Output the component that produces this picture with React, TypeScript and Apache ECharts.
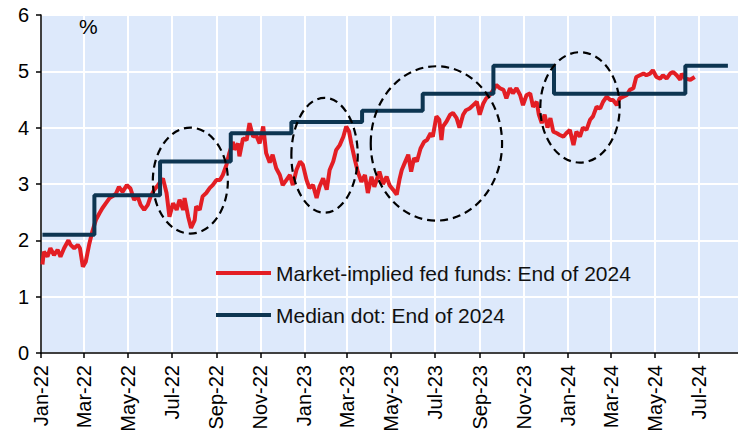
import React, { useEffect, useRef } from "react";
import * as echarts from "echarts";

const FONT = "Liberation Sans, Arial, sans-serif";

const tickDates = [
  "2022-01-01", "2022-03-01", "2022-05-01", "2022-07-01", "2022-09-01", "2022-11-01",
  "2023-01-01", "2023-03-01", "2023-05-01", "2023-07-01", "2023-09-01", "2023-11-01",
  "2024-01-01", "2024-03-01", "2024-05-01", "2024-07-01",
];
const tickLabels = [
  "Jan-22", "Mar-22", "May-22", "Jul-22", "Sep-22", "Nov-22",
  "Jan-23", "Mar-23", "May-23", "Jul-23", "Sep-23", "Nov-23",
  "Jan-24", "Mar-24", "May-24", "Jul-24",
];

const marketDates = [
  "2022-01-03", "2022-01-05", "2022-01-10", "2022-01-14", "2022-01-19", "2022-01-24", "2022-01-28",
  "2022-02-02", "2022-02-08", "2022-02-11", "2022-02-16", "2022-02-21", "2022-02-24", "2022-02-28",
  "2022-03-04", "2022-03-09", "2022-03-13", "2022-03-18", "2022-03-23", "2022-03-27",
  "2022-04-01", "2022-04-06", "2022-04-10", "2022-04-15", "2022-04-19", "2022-04-24", "2022-04-30",
  "2022-05-05", "2022-05-10", "2022-05-15", "2022-05-19", "2022-05-24", "2022-05-29",
  "2022-06-02", "2022-06-07", "2022-06-12", "2022-06-19", "2022-06-24", "2022-06-28",
  "2022-07-03", "2022-07-08", "2022-07-12", "2022-07-17", "2022-07-19", "2022-07-24", "2022-07-28",
  "2022-08-02", "2022-08-04", "2022-08-09", "2022-08-13", "2022-08-18", "2022-08-23", "2022-08-27",
  "2022-09-01", "2022-09-06", "2022-09-10", "2022-09-15", "2022-09-19", "2022-09-24", "2022-09-26",
  "2022-10-01", "2022-10-03", "2022-10-08", "2022-10-13", "2022-10-17", "2022-10-22", "2022-10-26", "2022-10-31",
  "2022-11-05", "2022-11-09", "2022-11-14", "2022-11-18", "2022-11-23", "2022-11-28",
  "2022-12-02", "2022-12-07", "2022-12-12", "2022-12-16", "2022-12-21", "2022-12-26", "2022-12-30",
  "2023-01-04", "2023-01-08", "2023-01-13", "2023-01-18", "2023-01-22", "2023-01-27",
  "2023-02-01", "2023-02-05", "2023-02-10", "2023-02-14", "2023-02-19", "2023-02-24", "2023-02-28",
  "2023-03-04", "2023-03-07", "2023-03-12", "2023-03-16", "2023-03-21", "2023-03-26", "2023-03-30",
  "2023-04-04", "2023-04-08", "2023-04-15", "2023-04-20", "2023-04-25", "2023-04-29",
  "2023-05-04", "2023-05-09", "2023-05-13", "2023-05-16", "2023-05-20", "2023-05-25", "2023-05-29",
  "2023-06-02", "2023-06-06", "2023-06-11", "2023-06-16", "2023-06-20", "2023-06-25", "2023-06-28",
  "2023-07-03", "2023-07-07", "2023-07-10", "2023-07-12", "2023-07-17", "2023-07-22", "2023-07-26", "2023-07-31",
  "2023-08-04", "2023-08-09", "2023-08-13", "2023-08-18", "2023-08-23", "2023-08-28",
  "2023-09-01", "2023-09-06", "2023-09-10", "2023-09-15", "2023-09-20", "2023-09-24", "2023-09-29",
  "2023-10-04", "2023-10-08", "2023-10-13", "2023-10-17", "2023-10-22", "2023-10-27", "2023-10-31",
  "2023-11-05", "2023-11-10", "2023-11-14", "2023-11-19", "2023-11-22", "2023-11-26", "2023-11-30",
  "2023-12-04", "2023-12-08", "2023-12-12", "2023-12-17", "2023-12-21", "2023-12-26", "2023-12-30",
  "2024-01-04", "2024-01-09", "2024-01-13", "2024-01-18", "2024-01-22", "2024-01-27",
  "2024-02-01", "2024-02-05", "2024-02-10", "2024-02-15", "2024-02-19", "2024-02-24", "2024-02-29",
  "2024-03-04", "2024-03-09", "2024-03-13", "2024-03-23", "2024-03-27",
  "2024-04-01", "2024-04-05", "2024-04-10", "2024-04-15", "2024-04-19", "2024-04-24", "2024-04-28",
  "2024-05-03", "2024-05-08", "2024-05-12", "2024-05-17", "2024-05-22", "2024-05-26", "2024-05-31",
  "2024-06-05", "2024-06-07", "2024-06-12", "2024-06-19", "2024-06-25",
];
const marketValues = [
  1.57, 1.80, 1.71, 1.86, 1.74, 1.83, 1.71,
  1.86, 2.00, 1.92, 1.86, 1.92, 1.86, 1.53,
  1.62, 1.94, 2.15, 2.36, 2.48, 2.57,
  2.66, 2.75, 2.78, 2.83, 2.95, 2.86, 2.98,
  2.92, 2.72, 2.78, 2.63, 2.54, 2.63,
  2.78, 2.90, 2.98, 3.10, 2.84, 2.42,
  2.66, 2.54, 2.72, 2.54, 2.75, 2.42, 2.22,
  2.36, 2.60, 2.54, 2.78, 2.84, 2.93, 2.98,
  3.07, 3.07, 3.16, 3.34, 3.55, 3.75, 3.61,
  3.72, 3.49, 3.81, 3.78, 4.08, 3.84, 3.87, 3.72,
  4.02, 3.55, 3.38, 3.52, 3.28, 3.16,
  2.98, 3.07, 3.16, 2.98, 3.25, 3.40, 3.34,
  3.07, 2.93, 2.98, 2.75, 2.95, 3.10,
  2.90, 3.25, 3.40, 3.60, 3.69, 3.84, 4.02,
  3.93, 3.72, 3.43, 3.22, 3.04, 3.16, 2.84,
  3.13, 2.95, 3.22, 3.00, 3.13, 2.98,
  2.90, 2.81, 3.09, 3.25, 3.37, 3.52, 3.22,
  3.46, 3.40, 3.63, 3.75, 3.78, 3.90, 3.84,
  4.20, 4.14, 3.78, 4.02, 4.11, 4.23, 4.26, 4.17,
  4.00, 4.23, 4.31, 4.34, 4.40, 4.46,
  4.23, 4.43, 4.52, 4.58, 4.67, 4.76, 4.70,
  4.67, 4.52, 4.70, 4.61, 4.70, 4.58, 4.40,
  4.58, 4.61, 4.37, 4.46, 4.23, 4.08, 4.23,
  4.00, 4.17, 3.93, 3.90, 3.87, 3.84, 3.90,
  3.96, 3.69, 3.93, 3.84, 4.00, 3.96,
  4.14, 4.20, 4.37, 4.34, 4.46, 4.55, 4.49,
  4.49, 4.40, 4.52, 4.58, 4.67,
  4.70, 4.90, 4.93, 4.96, 4.93, 4.96, 5.02,
  4.90, 4.87, 4.93, 4.87, 4.96, 4.99, 4.93,
  4.85, 4.96, 4.87, 4.85, 4.90,
];

const medianDates = [
  "2022-01-03", "2022-03-16", "2022-06-15", "2022-09-21", "2022-12-14", "2023-03-22",
  "2023-06-14", "2023-09-20", "2023-12-13", "2024-03-20", "2024-06-12", "2024-08-10",
];
const medianValues = [2.1, 2.8, 3.4, 3.9, 4.1, 4.3, 4.6, 5.1, 4.6, 4.6, 5.1, 5.1];

const ellipseCenterDates = ["2022-07-27", "2023-01-29", "2023-07-03", "2024-01-18"];
const ellipseCenterValues = [3.06, 3.51, 3.72, 4.36];
const ellipseHalfWidthDays = [52, 46, 91, 55];
const ellipseHalfHeights = [0.94, 1.02, 1.37, 0.98];

const seriesNames = ["Market-implied fed funds: End of 2024", "Median dot: End of 2024"];
const seriesColors = ["#e31e24", "#0d3551"];

const DAY = 86400000;
const toTs = (s: string) => {
  const [y, m, d] = s.split("-").map(Number);
  return Date.UTC(y, m - 1, d);
};

export default function App() {
  const ref = useRef<HTMLDivElement>(null);

  useEffect(() => {
    document.body.style.margin = "0";
    if (!ref.current) return;
    const chart = echarts.init(ref.current, null, { renderer: "svg" });
    const tickTs = tickDates.map(toTs);
    const labelMap: Record<number, string> = {};
    tickTs.forEach((t, i) => (labelMap[t] = tickLabels[i]));

    chart.setOption({
      animation: false,
      backgroundColor: "#ffffff",
      grid: {
        left: 41, top: 15, right: 0, bottom: 82,
        show: true, backgroundColor: "#dde9fb", borderWidth: 0,
        outerBoundsMode: "none",
      },
      legend: {
        orient: "vertical",
        left: 216, top: 261, padding: 0,
        icon: "rect",
        itemWidth: 55, itemHeight: 4, itemGap: 18,
        textStyle: { fontSize: 21, color: "#111", fontFamily: FONT, lineHeight: 24 },
        data: seriesNames,
      },
      xAxis: {
        type: "value",
        min: toTs("2022-01-01"),
        max: toTs("2024-08-24"),
        axisLine: { show: true, lineStyle: { color: "#000", width: 1.5 } },
        axisTick: { show: true, length: 5, lineStyle: { color: "#000", width: 1.5 }, customValues: tickTs },
        axisLabel: {
          customValues: tickTs,
          rotate: 90,
          margin: 12,
          fontSize: 20,
          color: "#000",
          fontFamily: FONT,
          formatter: (v: number) => labelMap[v] ?? "",
        },
        splitLine: { show: true, lineStyle: { color: "#ffffff", width: 2 } },
      },
      yAxis: {
        type: "value",
        min: 0, max: 6, interval: 1,
        axisLine: { show: true, lineStyle: { color: "#000", width: 1.5 } },
        axisTick: { show: true, length: 5, lineStyle: { color: "#000", width: 1.5 } },
        axisLabel: { fontSize: 20, color: "#000", fontFamily: FONT, margin: 12 },
        splitLine: { show: true, lineStyle: { color: "#ffffff", width: 2 } },
      },
      series: [
        {
          name: seriesNames[0],
          type: "line",
          symbol: "none",
          z: 2,
          lineStyle: { color: seriesColors[0], width: 4 },
          itemStyle: { color: seriesColors[0] },
          data: marketDates.map((d, i) => [toTs(d), marketValues[i]]),
        },
        {
          name: seriesNames[1],
          type: "line",
          symbol: "none",
          step: "end",
          z: 3,
          lineStyle: { color: seriesColors[1], width: 4 },
          itemStyle: { color: seriesColors[1] },
          data: medianDates.map((d, i) => [toTs(d), medianValues[i]]),
        },
      ],
      graphic: [
        {
          id: "pct", type: "text", left: 79, top: 16, z: 10,
          style: { text: "%", fontSize: 21, fill: "#000", fontFamily: FONT },
        },
      ],
    });

    const ellipses = ellipseCenterDates.map((d, i) => {
      const t = toTs(d);
      const c = chart.convertToPixel({ gridIndex: 0 }, [t, ellipseCenterValues[i]]) as number[];
      const e = chart.convertToPixel(
        { gridIndex: 0 },
        [t + ellipseHalfWidthDays[i] * DAY, ellipseCenterValues[i] + ellipseHalfHeights[i]]
      ) as number[];
      return {
        id: "ell" + i,
        type: "ellipse",
        z: 20,
        shape: { cx: c[0], cy: c[1], rx: e[0] - c[0], ry: c[1] - e[1] },
        style: { fill: "none", stroke: "#000", lineWidth: 2.2, lineDash: [8, 5] },
        silent: true,
      };
    });
    chart.setOption({ graphic: ellipses });

    return () => chart.dispose();
  }, []);

  return <div ref={ref} style={{ width: 738, height: 435 }} />;
}
